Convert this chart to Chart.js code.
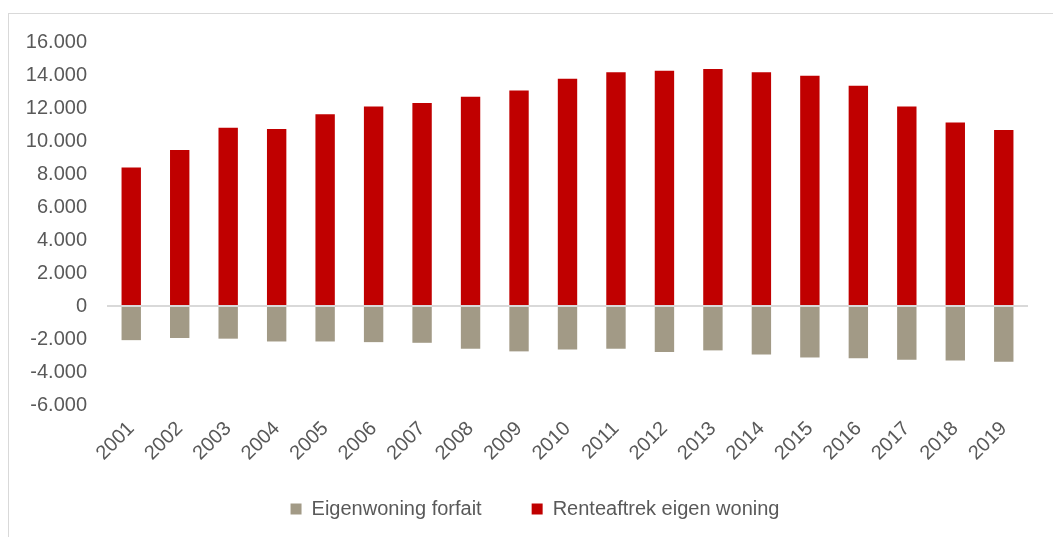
<!DOCTYPE html>
<html>
<head>
<meta charset="utf-8">
<script src="https://cdn.jsdelivr.net/npm/chart.js@4.4.1/dist/chart.umd.min.js"></script>
<style>
    html, body { margin: 0; padding: 0; background: #fff; }
    #wrap { position: relative; width: 1053px; height: 537px; overflow: hidden; }
    #frame {
        position: absolute; left: 8px; top: 13px; width: 1100px; height: 600px;
        border-left: 1px solid #d9d9d9; border-top: 1px solid #d9d9d9;
    }
    #chart { position: absolute; left: 0; top: 0; }
</style>
</head>
<body>
<div id="wrap">
    <div id="frame"></div>
    <canvas id="chart" width="1060" height="537"></canvas>
</div>
<script>
// Years on the x axis
const years = ['2001', '2002', '2003', '2004', '2005', '2006', '2007', '2008', '2009', '2010',
               '2011', '2012', '2013', '2014', '2015', '2016', '2017', '2018', '2019'];

// Renteaftrek eigen woning (positive, red)
const renteaftrek = [8400, 9460, 10810, 10730, 11620, 12090, 12310, 12680, 13060, 13770,
                     14160, 14260, 14360, 14160, 13950, 13350, 12090, 11120, 10670];

// Eigenwoning forfait (negative, grey)
const forfait = [-2070, -1940, -1980, -2150, -2150, -2190, -2230, -2590, -2750, -2640,
                 -2590, -2790, -2690, -2940, -3120, -3160, -3260, -3300, -3380];

// Axis range
const yMin = -6000;
const yMax = 16000;
const yStep = 2000;

const textColor = '#595959';
const fontFamily = '"Liberation Sans", Arial, sans-serif';

// Dutch thousands separator
function formatNumber(v) {
    const s = Math.abs(v).toString().replace(/\B(?=(\d{3})+(?!\d))/g, '.');
    return (v < 0 ? '-' : '') + s;
}

new Chart(document.getElementById('chart'), {
    type: 'bar',
    data: {
        labels: years,
        datasets: [
            {
                label: 'Eigenwoning forfait',
                data: forfait,
                backgroundColor: '#A29A86',
                barPercentage: 0.4,
                categoryPercentage: 1.0
            },
            {
                label: 'Renteaftrek eigen woning',
                data: renteaftrek,
                backgroundColor: '#C00000',
                barPercentage: 0.4,
                categoryPercentage: 1.0
            }
        ]
    },
    options: {
        responsive: false,
        animation: false,
        layout: {
            padding: { left: 16, right: 6, top: 42, bottom: 8 }
        },
        plugins: {
            tooltip: { enabled: false },
            legend: {
                position: 'bottom',
                labels: {
                    color: textColor,
                    font: { family: fontFamily, size: 20 },
                    boxWidth: 11,
                    boxHeight: 11,
                    padding: 10,
                    generateLabels(chart) {
                        // extra spacing after the first entry, as in the original
                        const items = Chart.defaults.plugins.legend.labels.generateLabels(chart);
                        items[0].text = items[0].text + '\u2003\u2003';
                        return items;
                    }
                }
            }
        },
        scales: {
            x: {
                stacked: true,
                grid: { display: false, drawTicks: false },
                border: { display: false },
                ticks: {
                    color: textColor,
                    font: { family: fontFamily, size: 20 },
                    minRotation: 45,
                    maxRotation: 45,
                    padding: 12
                },
                afterFit(scale) { scale.height = 84; }
            },
            y: {
                stacked: true,
                min: yMin,
                max: yMax,
                grid: {
                    drawTicks: false,
                    lineWidth: 2,
                    color: (ctx) => (ctx.tick && ctx.tick.value === 0 ? '#d9d9d9' : 'rgba(0,0,0,0)')
                },
                border: { display: false },
                ticks: {
                    stepSize: yStep,
                    color: textColor,
                    font: { family: fontFamily, size: 20 },
                    padding: 20,
                    callback: (v) => formatNumber(v)
                },
                afterFit(scale) { scale.width = 91; }
            },
            // empty right-hand spacer so the legend sits where it does in the original
            spacer: {
                type: 'linear',
                position: 'right',
                min: yMin,
                max: yMax,
                grid: { display: false, drawTicks: false },
                border: { display: false },
                ticks: { display: false },
                afterFit(scale) { scale.width = 26; }
            }
        }
    }
});
</script>
</body>
</html>
